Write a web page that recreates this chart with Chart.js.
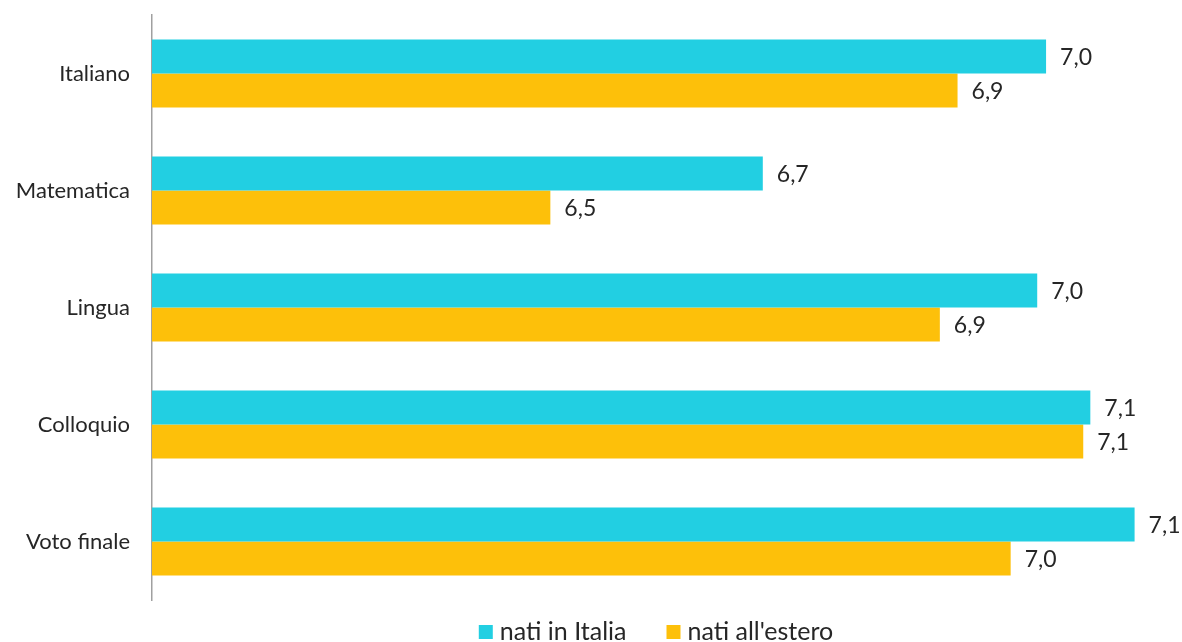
<!DOCTYPE html>
<html>
<head>
<meta charset="utf-8">
<script src="https://cdn.jsdelivr.net/npm/chart.js@4/dist/chart.umd.min.js"></script>
<style>
  html, body { margin: 0; padding: 0; background: #fff; overflow: hidden; }
  #wrap { width: 1182px; height: 642px; }
</style>
</head>
<body>
<div id="wrap"><canvas id="chart"></canvas></div>
<script>
const categories = ['Italiano', 'Matematica', 'Lingua', 'Colloquio', 'Voto finale'];
const natiItalia = [7.01, 6.69, 7.00, 7.06, 7.11];
const natiEstero = [6.91, 6.45, 6.89, 7.052, 6.97];
const seriesNames = ['nati in Italia', "nati all'estero"];
const seriesColors = ['#22CFE2', '#FDC00A'];

const FONT = 'Lato, "Open Sans", sans-serif';
const TEXT = '#262626';

// value labels at the end of each bar, with a comma as decimal mark
const valueLabels = {
  id: 'valueLabels',
  afterDatasetsDraw(chart) {
    const ctx = chart.ctx;
    ctx.save();
    ctx.font = '23px ' + FONT;
    ctx.fillStyle = TEXT;
    ctx.textAlign = 'left';
    ctx.textBaseline = 'middle';
    chart.data.datasets.forEach((ds, i) => {
      chart.getDatasetMeta(i).data.forEach((bar, j) => {
        const txt = ds.data[j].toFixed(1).replace('.', ',');
        ctx.fillText(txt, bar.x + 14, bar.y + 1);
      });
    });
    ctx.restore();
  }
};

// legend drawn below the plot, spaced like the original
const bottomLegend = {
  id: 'bottomLegend',
  afterDraw(chart) {
    const ctx = chart.ctx;
    const area = chart.chartArea;
    ctx.save();
    ctx.font = '25px ' + FONT;
    ctx.textBaseline = 'middle';
    const box = 14, gap = 7, spacing = 40;
    const widths = seriesNames.map(t => ctx.measureText(t).width);
    const total = widths.reduce((a, w) => a + box + gap + w, 0) + spacing * (seriesNames.length - 1);
    let x = (area.left + area.right) / 2 - total / 2 - 5;
    const y = 632;
    seriesNames.forEach((name, i) => {
      ctx.fillStyle = seriesColors[i];
      ctx.fillRect(x, y - box / 2, box, box);
      ctx.fillStyle = TEXT;
      ctx.fillText(name, x + box + gap, y);
      x += box + gap + widths[i] + spacing;
    });
    ctx.restore();
  }
};

new Chart(document.getElementById('chart'), {
  type: 'bar',
  data: {
    labels: categories,
    datasets: [
      { label: seriesNames[0], data: natiItalia, backgroundColor: seriesColors[0] },
      { label: seriesNames[1], data: natiEstero, backgroundColor: seriesColors[1] }
    ]
  },
  options: {
    indexAxis: 'y',
    responsive: true,
    maintainAspectRatio: false,
    animation: false,
    layout: { padding: { top: 15, bottom: 42, right: 12, left: 0 } },
    datasets: { bar: { barPercentage: 1, categoryPercentage: 0.58 } },
    plugins: {
      legend: { display: false },
      tooltip: { enabled: false }
    },
    scales: {
      x: {
        display: false,
        min: 6,
        max: 7.15
      },
      y: {
        grid: { display: false, drawTicks: false },
        border: { display: true, color: '#A0A0A0', width: 1.5 },
        ticks: {
          color: TEXT,
          font: { family: FONT, size: 22 },
          padding: 22
        },
        afterFit(scale) {
          scale.width = 152;
          // tick padding should not push the plot down
          scale.paddingTop = 0;
          scale.paddingBottom = 0;
        }
      }
    }
  },
  plugins: [valueLabels, bottomLegend]
});
</script>
</body>
</html>
